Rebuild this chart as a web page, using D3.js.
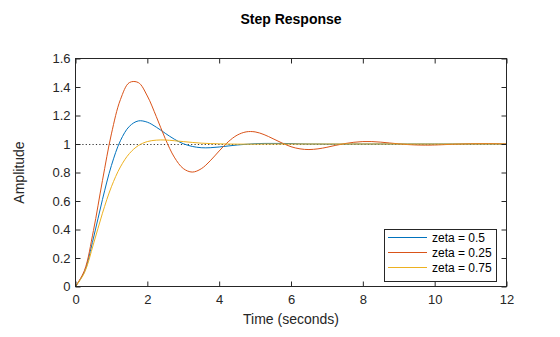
<!DOCTYPE html>
<html>
<head>
<meta charset="utf-8">
<script src="https://cdn.jsdelivr.net/npm/d3@7"></script>
<style>
  html, body { margin: 0; padding: 0; background: #fff; }
  svg { display: block; }
  text { font-family: "Liberation Sans", Arial, Helvetica, sans-serif; }
</style>
</head>
<body>
<svg id="chart" width="560" height="337"></svg>
<script>
// ---- data ----
const times = [0,0.25,0.5,0.75,1,1.25,1.5,1.75,2,2.25,2.5,2.75,3,3.25,3.5,3.75,4,4.25,4.5,4.75,5,5.25,5.5,5.75,6,6.25,6.5,6.75,7,7.25,7.5,7.75,8,8.25,8.5,8.75,9,9.25,9.5,9.75,10,10.5,11,11.5,12];
const zeta05 = [0,0.104,0.340,0.610,0.849,1.023,1.124,1.162,1.153,1.118,1.075,1.034,1.002,0.983,0.974,0.974,0.979,0.986,0.993,0.998,1.002,1.004,1.004,1.004,1.003,1.001,1.000,1.000,0.999,0.999,0.999,1.000,1.000,1.000,1.000,1.000,1.000,1.000,1.000,1.000,1.000,1.000,1.000,1.000,1.000];
const zeta025 = [0,0.113,0.393,0.743,1.071,1.311,1.431,1.431,1.337,1.192,1.037,0.908,0.828,0.803,0.826,0.882,0.951,1.015,1.062,1.085,1.085,1.066,1.037,1.007,0.981,0.966,0.961,0.966,0.977,0.991,1.003,1.012,1.017,1.017,1.013,1.007,1.001,0.996,0.993,0.992,0.993,0.998,1.002,1.003,1.001];
const zeta075 = [0,0.097,0.298,0.514,0.700,0.839,0.933,0.989,1.017,1.027,1.028,1.023,1.017,1.011,1.006,1.003,1.001,1.000,0.999,0.999,0.999,1.000,1.000,1.000,1.000,1.000,1.000,1.000,1.000,1.000,1.000,1.000,1.000,1.000,1.000,1.000,1.000,1.000,1.000,1.000,1.000,1.000,1.000,1.000,1.000];
const seriesNames = ["zeta = 0.5", "zeta = 0.25", "zeta = 0.75"];
const seriesColors = ["#0072BD", "#D95319", "#EDB120"];
const xTicks = [0,2,4,6,8,10,12];
const yTicks = [0,0.2,0.4,0.6,0.8,1,1.2,1.4,1.6];
const steadyState = 1;

// ---- layout ----
const svg = d3.select("#chart");
const L = 75.5, R = 506.5, T = 58.5, B = 286.5;
const ink = "#262626";

const x = d3.scaleLinear().domain([0, 12]).range([L, R]);
const y = d3.scaleLinear().domain([0, 1.6]).range([B, T]);

// title
svg.append("text").attr("x", (L + R) / 2).attr("y", 24)
  .attr("text-anchor", "middle").attr("font-size", 14).attr("font-weight", "bold")
  .attr("fill", "#000").text("Step Response");

// clip
svg.append("clipPath").attr("id", "clip").append("rect")
  .attr("x", L).attr("y", T).attr("width", R - L).attr("height", B - T);

const plot = svg.append("g").attr("clip-path", "url(#clip)");

// steady-state dotted line
plot.append("line")
  .attr("x1", x(0)).attr("x2", x(12))
  .attr("y1", Math.round(y(steadyState)) + 0.5).attr("y2", Math.round(y(steadyState)) + 0.5)
  .attr("stroke", "#333").attr("stroke-width", 1).attr("stroke-dasharray", "1.2,2.2");

const line = d3.line().x(d => x(d[0])).y(d => y(d[1])).curve(d3.curveCatmullRom.alpha(0.5));
const allSeries = [zeta05, zeta025, zeta075];
allSeries.forEach((vals, i) => {
  plot.append("path")
    .datum(times.map((t, j) => [t, vals[j]]))
    .attr("d", line).attr("fill", "none")
    .attr("stroke", seriesColors[i]).attr("stroke-width", 1);
});

// axes
function styleAxis(g) {
  g.select(".domain").remove();
  g.selectAll(".tick line").attr("stroke", ink);
  g.selectAll(".tick text").attr("fill", ink).attr("font-size", 13)
    .attr("font-family", '"Liberation Sans", Arial, Helvetica, sans-serif');
}
const fmt = d => d3.format("~g")(d);
svg.append("g").attr("transform", `translate(0,${B})`)
  .call(d3.axisBottom(x).tickValues(xTicks).tickFormat(fmt).tickSizeInner(-5).tickSizeOuter(0).tickPadding(8))
  .call(styleAxis);
svg.append("g").attr("transform", `translate(0,${T})`)
  .call(d3.axisTop(x).tickValues(xTicks).tickFormat("").tickSizeInner(-5).tickSizeOuter(0))
  .call(styleAxis);
svg.append("g").attr("transform", `translate(${L},0)`)
  .call(d3.axisLeft(y).tickValues(yTicks).tickFormat(fmt).tickSizeInner(-5).tickSizeOuter(0).tickPadding(5))
  .call(styleAxis);
svg.append("g").attr("transform", `translate(${R},0)`)
  .call(d3.axisRight(y).tickValues(yTicks).tickFormat("").tickSizeInner(-5).tickSizeOuter(0))
  .call(styleAxis);

// box
svg.append("rect").attr("x", L).attr("y", T).attr("width", R - L).attr("height", B - T)
  .attr("fill", "none").attr("stroke", ink).attr("stroke-width", 1);

// axis labels
svg.append("text").attr("x", (L + R) / 2).attr("y", 324)
  .attr("text-anchor", "middle").attr("font-size", 14).attr("fill", ink).text("Time (seconds)");
svg.append("text").attr("transform", `translate(24,${(T + B) / 2}) rotate(-90)`)
  .attr("text-anchor", "middle").attr("font-size", 14).attr("fill", ink).text("Amplitude");

// legend
const lg = svg.append("g");
lg.append("rect").attr("x", 384.5).attr("y", 229.5).attr("width", 112).attr("height", 52)
  .attr("fill", "#fff").attr("stroke", ink).attr("stroke-width", 1);
seriesNames.forEach((name, i) => {
  const yy = 237.5 + i * 15;
  lg.append("line").attr("x1", 388).attr("x2", 427).attr("y1", yy).attr("y2", yy)
    .attr("stroke", seriesColors[i]).attr("stroke-width", 1);
  lg.append("text").attr("x", 432).attr("y", yy).attr("dy", "0.35em")
    .attr("font-size", 12).attr("fill", "#000").text(name);
});
</script>
</body>
</html>
